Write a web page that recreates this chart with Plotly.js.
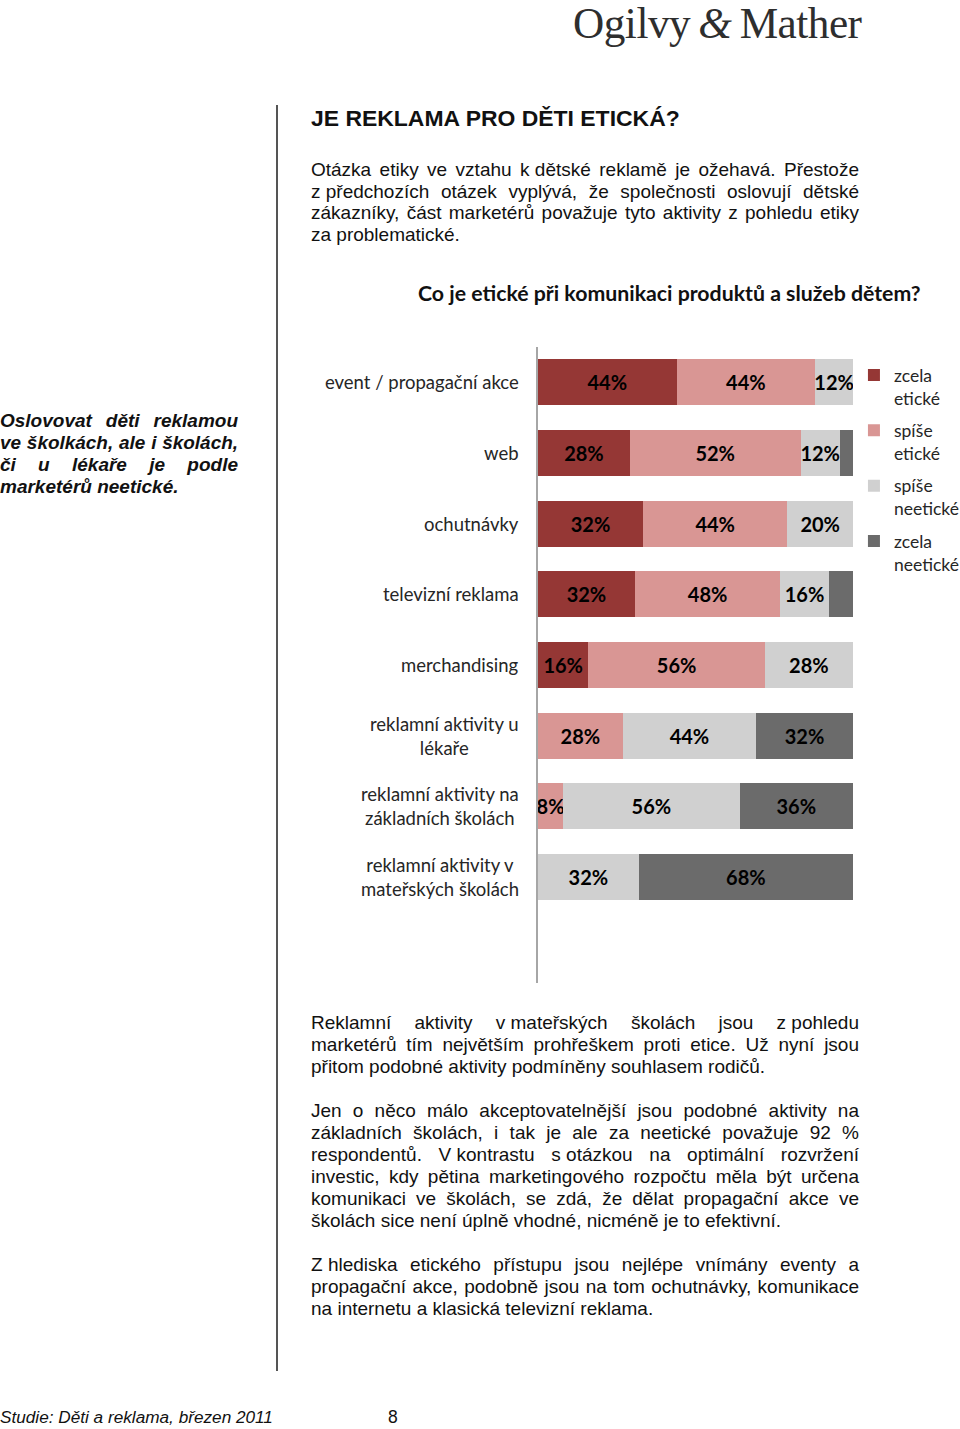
<!DOCTYPE html>
<html><head><meta charset="utf-8">
<script src="https://cdn.plot.ly/plotly-3.0.1.min.js"></script>
<style>
html,body{margin:0;padding:0;background:#fff;}
#page{position:relative;width:960px;height:1429px;overflow:hidden;font-family:"Liberation Sans",Arial,sans-serif;color:#111;}
.abs{position:absolute;white-space:nowrap;}
.jl{position:absolute;text-align:justify;text-align-last:justify;overflow:visible;}
.ll{text-align:left;text-align-last:left;}
.nb{display:inline-block;white-space:nowrap;}
.body{font-size:19px;}
.call{font-size:19px;font-weight:bold;font-style:italic;}
#chart{position:absolute;left:280px;top:330px;width:720px;height:670px;}
</style></head><body>
<div id="page">
  <div id="logo" class="abs" style="left:573px;top:0px;font-family:'Liberation Serif',serif;font-size:46px;line-height:46px;color:#2e2e2e;letter-spacing:-0.5px;">Ogilvy<span style="font-style:italic;">&thinsp;&amp;&thinsp;</span>Mather</div>
  <div style="position:absolute;left:276px;top:105px;width:2px;height:1266px;background:#555;"></div>
  <div id="title" class="abs" style="left:311px;top:105px;font-size:22px;font-weight:bold;line-height:26px;">JE REKLAMA PRO DĚTI ETICKÁ?</div>
  <div id="subtitle" class="abs" style="left:418px;top:280px;font-family:Lato,'Open Sans',sans-serif;font-size:20px;font-weight:bold;line-height:26px;">Co je etické při komunikaci produktů a služeb dětem?</div>
  <div id="foot" class="abs" style="left:0px;top:1405px;font-size:17.5px;font-style:italic;line-height:24px;">Studie: Děti a reklama, březen 2011</div>
  <div class="abs" style="left:388px;top:1405px;font-size:17.5px;line-height:24px;">8</div>
  <div id="chart"></div>
</div>
<script>
// ---------- chart data ----------
var categories = ["event / propagační akce", "web", "ochutnávky", "televizní reklama", "merchandising",
                  "reklamní aktivity u lékaře", "reklamní aktivity na základních školách", "reklamní aktivity v mateřských školách"];
var categoryLabels = ["event / propagační akce", "web", "ochutnávky", "televizní reklama", "merchandising",
                  "reklamní aktivity u<br>lékaře", "reklamní aktivity na<br>základních školách", "reklamní aktivity v<br>mateřských školách"];
var seriesNames = ["zcela<br>etické", "spíše<br>etické", "spíše<br>neetické", "zcela<br>neetické"];
var zcelaEticke   = [44, 28, 32, 32, 16, 0, 0, 0];
var spiseEticke   = [44, 52, 44, 48, 56, 28, 8, 0];
var spiseNeeticke = [12, 12, 20, 16, 28, 44, 56, 32];
var zcelaNeeticke = [0, 4, 0, 8, 0, 32, 36, 68];
var seriesColors = ["#953735", "#d99694", "#d0d0d0", "#6b6b6b"];

// ---------- page text ----------
var para1 = ["Otázka etiky ve vztahu <span class='nb'>k dětské</span> reklamě je ožehavá. Přestože",
             "<span class='nb'>z předchozích</span> otázek vyplývá, že společnosti oslovují dětské",
             "zákazníky, část marketérů považuje tyto aktivity z pohledu etiky",
             "za problematické."];
var callout = ["Oslovovat děti reklamou", "ve školkách, ale i školách,", "či u lékaře je podle", "marketérů neetické."];
var para2 = ["Reklamní aktivity <span class='nb'>v mateřských</span> školách jsou <span class='nb'>z pohledu</span>",
             "marketérů tím největším prohřeškem proti etice. Už nyní jsou",
             "přitom podobné aktivity podmíněny souhlasem rodičů."];
var para3 = ["Jen o něco málo akceptovatelnější jsou podobné aktivity na",
             "základních školách, i tak je ale za neetické považuje 92 %",
             "respondentů. <span class='nb'>V kontrastu</span> <span class='nb'>s otázkou</span> na optimální rozvržení",
             "investic, kdy pětina marketingového rozpočtu měla být určena",
             "komunikaci ve školách, se zdá, že dělat propagační akce ve",
             "školách sice není úplně vhodné, nicméně je to efektivní."];
var para4 = ["<span class='nb'>Z hlediska</span> etického přístupu jsou nejlépe vnímány eventy a",
             "propagační akce, podobně jsou na tom ochutnávky, komunikace",
             "na internetu a klasická televizní reklama."];

var page = document.getElementById('page');
function addPara(lines, x, top, w, lh, cls) {
  lines.forEach(function (t, i) {
    var d = document.createElement('div');
    d.className = 'jl ' + cls + (i === lines.length - 1 ? ' ll' : '');
    d.style.left = x + 'px'; d.style.top = (top + i * lh) + 'px';
    d.style.width = w + 'px'; d.style.lineHeight = lh + 'px';
    d.innerHTML = t;
    page.appendChild(d);
    var m = document.createElement('span');
    m.className = 'abs ' + cls; m.style.visibility = 'hidden'; m.innerHTML = t;
    page.appendChild(m);
    var nw = m.getBoundingClientRect().width;
    page.removeChild(m);
    if (nw > w - 2) {
      var fs = parseFloat(getComputedStyle(d).fontSize);
      d.style.fontSize = (fs * (w - 2) / nw) + 'px';
    }
  });
}
addPara(para1, 311, 159, 548, 21.7, 'body');
addPara(callout, 0, 410, 238, 22, 'call');
addPara(para2, 311, 1012, 548, 22, 'body');
addPara(para3, 311, 1100, 548, 22, 'body');
addPara(para4, 311, 1254, 548, 22, 'body');

function fitWidth(id, target) {
  var el = document.getElementById(id);
  var w = el.getBoundingClientRect().width;
  var fs = parseFloat(getComputedStyle(el).fontSize);
  el.style.fontSize = (fs * target / w) + 'px';
}
fitWidth('logo', 289);
fitWidth('title', 369);
fitWidth('subtitle', 503);
fitWidth('foot', 273);

// ---------- chart ----------
var seriesValues = [zcelaEticke, spiseEticke, spiseNeeticke, zcelaNeeticke];
var traces = seriesValues.map(function (vals, s) {
  return {
    type: 'bar', orientation: 'h',
    name: seriesNames[s], legendgroup: 'g' + s,
    y: categories, x: vals,
    marker: {color: seriesColors[s], line: {width: 0}},
    text: vals.map(function (v) { return (v > 0 && !(s === 3 && v < 10)) ? v + '%' : ''; }),
    textposition: 'inside', insidetextanchor: 'middle', constraintext: 'none', textangle: 0,
    textfont: {family: 'Lato, "Open Sans", sans-serif', size: 20, color: '#000', weight: 'bold'},
    hoverinfo: 'skip'
  };
});

var annotations = categories.map(function (c, i) {
  return {
    xref: 'paper', yref: 'y', x: -0.054, y: c,
    xanchor: 'right', yanchor: 'middle', align: 'center',
    text: categoryLabels[i], showarrow: false,
    font: {family: 'Lato, "Open Sans", sans-serif', size: 18.5, color: '#262626'}
  };
});

var layout = {
  width: 720, height: 670,
  margin: {l: 258, r: 147, t: 17, b: 17, pad: 0, autoexpand: false},
  paper_bgcolor: 'rgba(0,0,0,0)', plot_bgcolor: 'rgba(0,0,0,0)',
  barmode: 'stack', barnorm: 'percent', bargap: 0.35,
  showlegend: true,
  legend: {
    x: 1.003, xanchor: 'left', y: 0.984, yanchor: 'top',
    valign: 'top', traceorder: 'grouped', tracegroupgap: 6.8,
    font: {family: 'Lato, "Open Sans", sans-serif', size: 17.5, color: '#262626'},
    bgcolor: 'rgba(0,0,0,0)', borderwidth: 0
  },
  xaxis: {range: [0, 100], visible: false, fixedrange: true},
  yaxis: {
    type: 'category', categoryorder: 'array', categoryarray: categories,
    range: [8.5, -0.5], showticklabels: false, ticks: '',
    showline: true, linecolor: '#a6a6a6', linewidth: 2, showgrid: false, zeroline: false, fixedrange: true
  },
  annotations: annotations,
  font: {family: 'Lato, "Open Sans", sans-serif'}
};
Plotly.newPlot('chart', traces, layout, {staticPlot: true, displayModeBar: false});
</script>
</body></html>
